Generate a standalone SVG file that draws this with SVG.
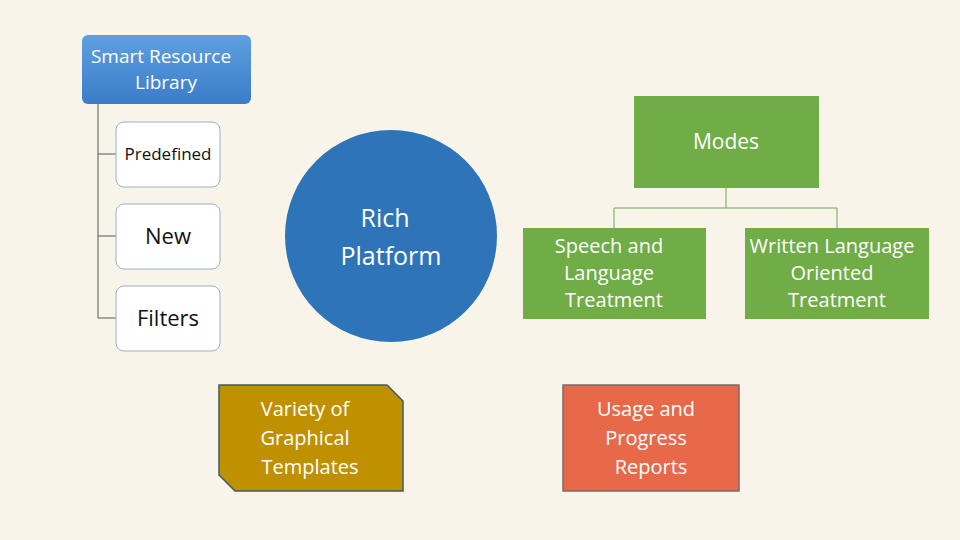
<svg xmlns="http://www.w3.org/2000/svg" width="960" height="540" viewBox="0 0 960 540">
<style>
text{font-family:"Open Sans","Noto Sans",sans-serif;text-anchor:middle}
.w{fill:#fff}
.k{fill:#111}
.sub{fill:#fff;stroke:#9ab0c8;stroke-width:1}
.ln{stroke:#555;stroke-width:1;fill:none}
.gl{stroke:#6aa84f;stroke-width:1;fill:none}
</style>
<defs><linearGradient id="bg" x1="0" y1="0" x2="0" y2="1"><stop offset="0" stop-color="#5fa0e0"/><stop offset="1" stop-color="#3a7cc8"/></linearGradient></defs>
<rect width="960" height="540" fill="#f8f4ea"/>
<g id="connectors">
<path class="ln" d="M98 104V318H116M98 154H116M98 236H116"/>
<path class="gl" d="M726 188V208M614 208H837M614 208V228M837 208V228"/>
</g>
<g id="library"><rect x="82" y="35" width="169" height="69" rx="6" fill="url(#bg)"/>
<text x="161" y="63" font-size="19" class="w">Smart Resource</text><text x="166" y="89" font-size="19" class="w">Library</text></g>
<g id="predefined"><rect class="sub" x="116" y="122" width="104" height="65" rx="8"/><text x="168" y="160" font-size="17" class="k">Predefined</text></g>
<g id="new"><rect class="sub" x="116" y="204" width="104" height="65" rx="8"/><text x="168" y="244" font-size="22" class="k">New</text></g>
<g id="filters"><rect class="sub" x="116" y="286" width="104" height="65" rx="8"/><text x="168" y="326" font-size="22" class="k">Filters</text></g>
<g id="rich"><circle cx="391" cy="236" r="106" fill="#2e74b8"/><text x="385" y="227" font-size="25" class="w">Rich</text><text x="391" y="265" font-size="25" class="w">Platform</text></g>
<g id="modes"><rect x="634" y="96" width="185" height="92" fill="#70ad47"/><text x="726" y="149" font-size="21" class="w">Modes</text></g>
<g id="speech"><rect x="523" y="228" width="183" height="91" fill="#70ad47"/><text x="609" y="253" font-size="20" class="w">Speech and</text><text x="609" y="280" font-size="20" class="w">Language</text><text x="614" y="307" font-size="20" class="w">Treatment</text></g>
<g id="written"><rect x="745" y="228" width="184" height="91" fill="#70ad47"/><text x="832" y="253" font-size="20" class="w">Written Language</text><text x="832" y="280" font-size="20" class="w">Oriented</text><text x="837" y="307" font-size="20" class="w">Treatment</text></g>
<g id="variety"><path d="M219 385H387L403 401V491H235L219 475Z" fill="#bf9000" stroke="#3f5a6e" stroke-width="1.5"/><text x="305" y="416" font-size="20" class="w">Variety of</text><text x="305" y="445" font-size="20" class="w">Graphical</text><text x="310" y="474" font-size="20" class="w">Templates</text></g>
<g id="usage"><rect x="563" y="385" width="176" height="106" fill="#e8694a" stroke="#7a6a6a" stroke-width="1.5"/><text x="646" y="416" font-size="20" class="w">Usage and</text><text x="646" y="445" font-size="20" class="w">Progress</text><text x="651" y="474" font-size="20" class="w">Reports</text></g>
</svg>
